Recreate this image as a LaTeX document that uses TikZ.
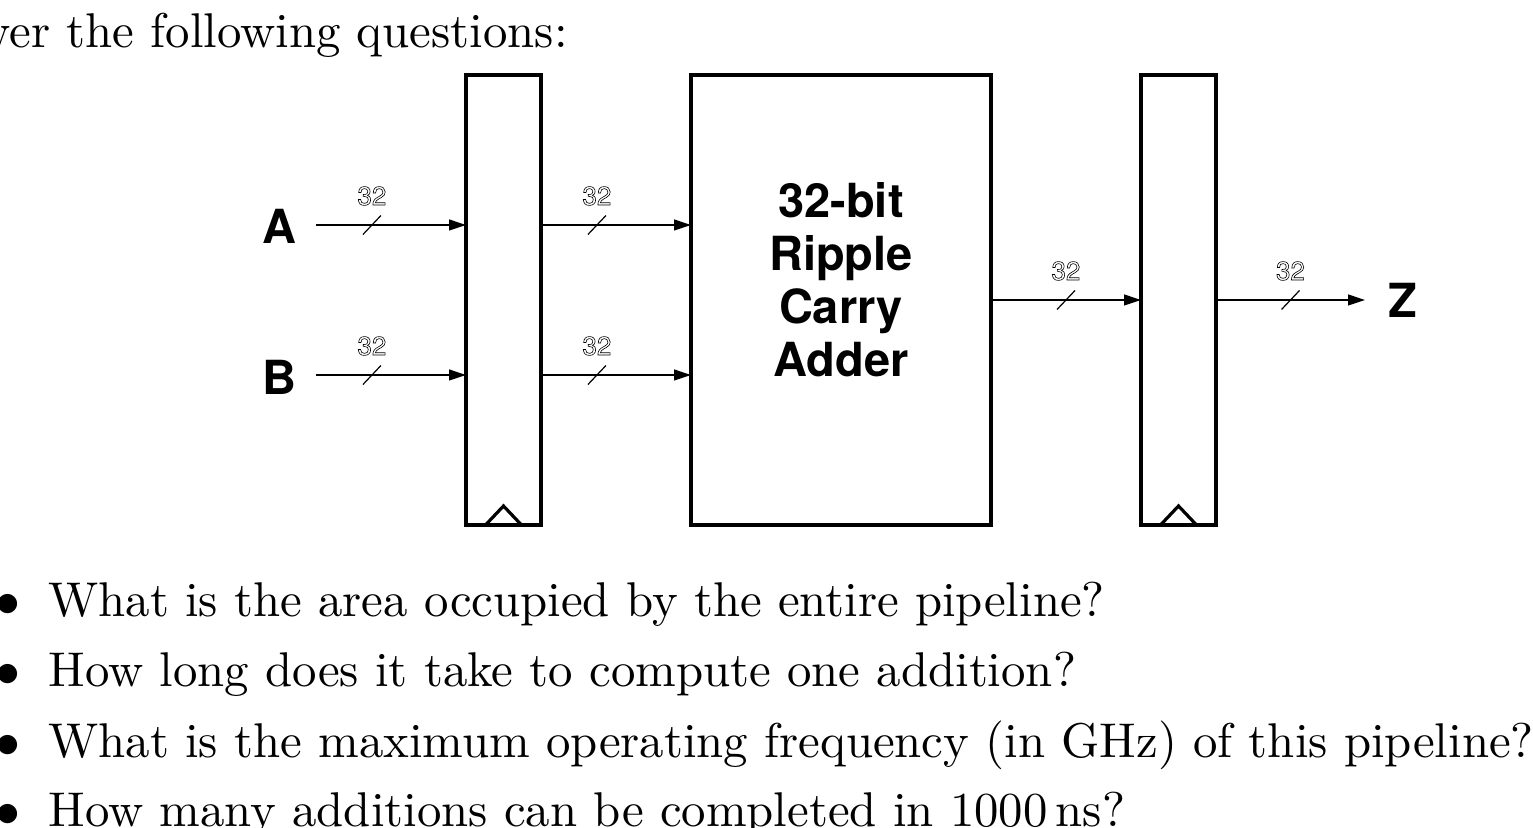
\documentclass[tikz,border=0pt]{standalone}
\usepackage{fontspec}
\newfontfamily\heros{TeX Gyre Heros}
\newfontfamily\lmten{lmroman10-regular.otf}
\usetikzlibrary{arrows.meta,calc}

% hollow digits for the bus widths
\newcommand{\hollow}[1]{\special{pdf:literal direct 1 Tr 0.3 w}#1\special{pdf:literal direct 0 Tr}}

\tikzset{
  reg/.style={draw,line width=2.3pt,outer sep=0pt,inner sep=0pt,
              minimum width=37.5pt,minimum height=225pt},
  unit/.style={reg,minimum width=150pt},
  clk/.style={line width=1.6pt,line join=miter},
  bus/.style={line width=0.6pt,-{Triangle[length=8.5pt,width=5.5pt]}},
  pin/.style={inner sep=0pt,font=\heros\bfseries\fontsize{23.5}{26.5}\selectfont},
  buslabel/.style={inner sep=0pt,font=\heros\fontsize{13}{15}\selectfont},
  question/.style={inner sep=0pt,anchor=base west,font=\lmten\fontsize{24.4}{28}\selectfont},
  dot/.style={inner sep=0pt,anchor=base,font=\fontsize{24.4}{28}\selectfont},
  buswidth/.pic={
    \draw[arrows=-,line width=0.6pt] (-4.5pt,-4.75pt) -- (4.5pt,4.75pt);
    \node[buslabel] at (0,14.5pt) {\hollow{32}};
  }
}

\begin{document}
\begin{tikzpicture}[x=0.5pt,y=-0.5pt]
\useasboundingbox (0,0) rectangle (1533,828);
\clip (0,0) rectangle (1533,828);

    % text above
    \node[question,anchor=base east] (intro) at (568,48) {Answer the following questions:};

    % pipeline
    \node[reg] (rega) at (503.5,300) {};
    \node[unit] (add) at (841,300) {};
    \node[reg] (regb) at (1178.5,300) {};
    \node[pin,align=center,anchor=north] (addtext) at (841,182) {32-bit\\Ripple\\Carry\\Adder};

    \draw[clk] ($(rega.south)+(-18,0)$) -- ++(18,-19) -- ++(18,19);
    \draw[clk] ($(regb.south)+(-18,0)$) -- ++(18,-19) -- ++(18,19);

    % inputs
    \node[pin] (a) at (279,226) {A};
    \node[pin] (b) at (279,377) {B};
    \coordinate (ina) at (316,225);
    \coordinate (inb) at (316,375);
    \draw[bus] (ina) -- pic[pos=0.373]{buswidth} (ina -| rega.west);
    \draw[bus] (inb) -- pic[pos=0.373]{buswidth} (inb -| rega.west);
    \draw[bus] (rega.east |- ina) -- pic[pos=0.373]{buswidth} (add.west |- ina);
    \draw[bus] (rega.east |- inb) -- pic[pos=0.373]{buswidth} (add.west |- inb);

    % output
    \draw[bus] (add.east) -- pic[pos=0.5]{buswidth} (regb.west);
    \coordinate (outz) at (1365,300);
    \draw[bus] (regb.east) -- pic[pos=0.5]{buswidth} (outz);
    \node[pin] (z) at (1403,300) {Z};

    % questions
    \node[dot] (d1) at (8,617) {$\bullet$};
    \node[question] (q1) at (48,617) {What is the area occupied by the entire pipeline?};
    \node[dot] (d2) at (8,687) {$\bullet$};
    \node[question] (q2) at (48,687) {How long does it take to compute one addition?};
    \node[dot] (d3) at (8,757) {$\bullet$};
    \node[question] (q3) at (48,757) {What is the maximum operating frequency (in GHz) of this pipeline?};
    \node[dot] (d4) at (8,827) {$\bullet$};
    \node[question] (q4) at (48,827) {How many additions can be completed in 1000\,ns?};

\end{tikzpicture}
\end{document}
